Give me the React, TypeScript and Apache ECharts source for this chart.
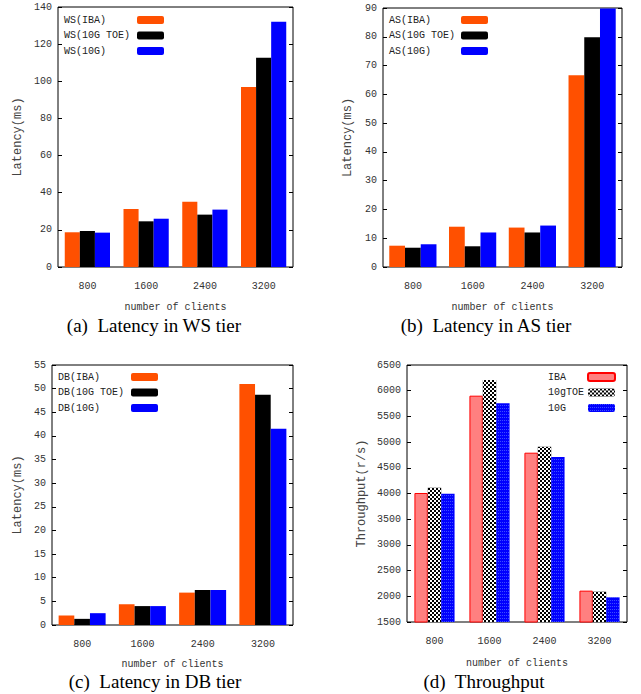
import React, { useEffect, useRef } from "react";
import * as echarts from "echarts";

const categories = ["800", "1600", "2400", "3200"];

const wsIBA = [18.7, 31.2, 35.2, 96.9];
const wsTOE = [19.4, 24.6, 28.2, 112.7];
const ws10G = [18.5, 26.0, 30.9, 132.1];

const asIBA = [7.4, 14.0, 13.7, 66.6];
const asTOE = [6.7, 7.2, 12.0, 79.8];
const as10G = [7.9, 12.0, 14.4, 89.8];

const dbIBA = [2.0, 4.4, 6.85, 51.0];
const dbTOE = [1.3, 4.0, 7.4, 48.7];
const db10G = [2.5, 4.0, 7.4, 41.5];

const tpIBA = [4010, 5903, 4794, 2110];
const tpTOE = [4113, 6208, 4911, 2090];
const tp10G = [3997, 5754, 4710, 1980];

const captions = [
  "(a)  Latency in WS tier",
  "(b)  Latency in AS tier",
  "(c)  Latency in DB tier",
  "(d)  Throughput",
];

const MONO = "'Liberation Mono', 'DejaVu Sans Mono', monospace";
const SERIF = "'Liberation Serif', 'DejaVu Serif', serif";
const ORANGE = "#ff5000";
const BLUE = "#0000ff";

export default function App() {
  const ref = useRef<HTMLDivElement>(null);
  useEffect(() => {
    if (!ref.current) return;
    const chart = echarts.init(ref.current, null, { renderer: "svg" });

    const grids = [
      { left: 58, top: 7, width: 235, height: 260 },
      { left: 383, top: 8, width: 239, height: 259 },
      { left: 52, top: 365, width: 241, height: 260 },
      { left: 407, top: 365, width: 220, height: 257 },
    ];
    const yCfg = [
      { min: 0, max: 140, interval: 20, name: "Latency(ms)", gap: 34 },
      { min: 0, max: 90, interval: 10, name: "Latency(ms)", gap: 29 },
      { min: 0, max: 55, interval: 5, name: "Latency(ms)", gap: 28 },
      { min: 1500, max: 6500, interval: 500, name: "Throughput(r/s)", gap: 39 },
    ];
    const xGap = [35, 35, 34, 36];

    const xAxis: any[] = grids.map((_, i) => ({
      type: "category",
      gridIndex: i,
      data: categories,
      axisLine: { show: false },
      axisTick: { show: false },
      axisLabel: { fontFamily: MONO, fontSize: 10, color: "#333", margin: 14 },
      name: "number of clients",
      nameLocation: "middle",
      nameGap: xGap[i],
      nameTextStyle: { fontFamily: MONO, fontSize: 10, lineHeight: 10, color: "#333" },
    }));

    const yAxis: any[] = [];
    yCfg.forEach((c, i) => {
      yAxis.push({
        type: "value",
        gridIndex: i,
        min: c.min,
        max: c.max,
        interval: c.interval,
        position: "left",
        axisLine: { show: false },
        axisTick: { show: true, inside: true, length: 4, lineStyle: { color: "#000" } },
        splitLine: { show: false },
        axisLabel: {
          fontFamily: MONO,
          fontSize: 10,
          color: "#333",
          margin: 6,
          formatter: (v: number) => String(v),
        },
        name: c.name,
        nameLocation: "middle",
        nameGap: c.gap,
        nameRotate: 90,
        nameTextStyle: { fontFamily: MONO, fontSize: 12, color: "#444" },
      });
    });
    yCfg.forEach((c, i) => {
      yAxis.push({
        type: "value",
        gridIndex: i,
        min: c.min,
        max: c.max,
        interval: c.interval,
        position: "right",
        axisLine: { show: false },
        axisTick: { show: true, inside: true, length: 4, lineStyle: { color: "#000" } },
        splitLine: { show: false },
        axisLabel: { show: false },
      });
    });

    const checker = {
      symbol: "rect",
      symbolSize: 1,
      color: "#ffffff",
      dashArrayX: [[2, 2], [0, 2, 2, 0]],
      dashArrayY: [2, 0],
      rotation: 0,
    };
    const blueDots = {
      symbol: "rect",
      symbolSize: 1,
      color: "rgba(110,140,255,0.55)",
      dashArrayX: [1, 1],
      dashArrayY: [1, 2],
      rotation: 0,
    };

    const mk = (name: string, data: number[], gi: number, style: any, gap: string) => ({
      type: "bar",
      name,
      data,
      xAxisIndex: gi,
      yAxisIndex: gi,
      barGap: "0%",
      barCategoryGap: gap,
      itemStyle: style,
    });

    const series: any[] = [
      mk("WS(IBA)", wsIBA, 0, { color: ORANGE }, "23%"),
      mk("WS(10G TOE)", wsTOE, 0, { color: "#000" }, "23%"),
      mk("WS(10G)", ws10G, 0, { color: BLUE }, "23%"),
      mk("AS(IBA)", asIBA, 1, { color: ORANGE }, "21%"),
      mk("AS(10G TOE)", asTOE, 1, { color: "#000" }, "21%"),
      mk("AS(10G)", as10G, 1, { color: BLUE }, "21%"),
      mk("DB(IBA)", dbIBA, 2, { color: ORANGE }, "22%"),
      mk("DB(10G TOE)", dbTOE, 2, { color: "#000" }, "22%"),
      mk("DB(10G)", db10G, 2, { color: BLUE }, "22%"),
      mk("IBA", tpIBA, 3, { color: "#ff8080", borderColor: "#ff0000", borderWidth: 1 }, "27%"),
      mk("10gTOE", tpTOE, 3, { color: "#000", decal: checker }, "27%"),
      mk("10G", tp10G, 3, { color: BLUE, decal: blueDots }, "27%"),
    ];

    const legendBase = (data: string[], left: number, top: number, textW: number) => ({
      data,
      left,
      top,
      orient: "vertical",
      align: "right",
      padding: 0,
      itemWidth: 27,
      itemHeight: 8,
      itemGap: 3.5,
      selectedMode: false,
      formatter: "{a|{name}}",
      textStyle: {
        fontFamily: MONO,
        fontSize: 10,
        lineHeight: 12,
        color: "#222",
        rich: {
          a: {
            width: textW,
            align: "left",
            fontFamily: MONO,
            fontSize: 10,
            lineHeight: 12,
            color: "#222",
          },
        },
      },
    });

    const legend: any[] = [
      legendBase(["WS(IBA)", "WS(10G TOE)", "WS(10G)"], 64, 14, 68),
      legendBase(["AS(IBA)", "AS(10G TOE)", "AS(10G)"], 389, 14, 67),
      legendBase(["DB(IBA)", "DB(10G TOE)", "DB(10G)"], 58, 371, 68),
      legendBase(["IBA", "10gTOE", "10G"], 548, 371, 35),
    ];

    const capPos = [
      [154, 325],
      [486, 325],
      [155, 681],
      [484, 681],
    ];
    const graphic: any[] = captions.map((t, i) => ({
      type: "text",
      x: capPos[i][0],
      y: capPos[i][1],
      style: {
        text: t,
        fontFamily: SERIF,
        fontSize: 19,
        lineHeight: 19,
        fill: "#000",
        align: "center",
        verticalAlign: "middle",
      },
    }));

    chart.setOption({
      animation: false,
      backgroundColor: "#fff",
      grid: grids.map((g) => ({ ...g, show: true, borderColor: "#000", borderWidth: 1, backgroundColor: "transparent" })),
      xAxis,
      yAxis,
      legend,
      series,
      graphic,
    });
    return () => chart.dispose();
  }, []);
  return (
    <div
      ref={ref}
      style={{ position: "fixed", left: 0, top: 0, width: 641, height: 694, background: "#fff" }}
    />
  );
}
